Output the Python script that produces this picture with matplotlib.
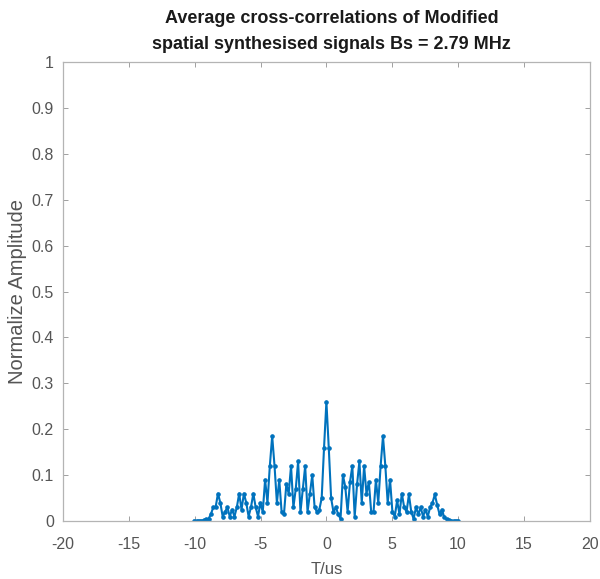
import numpy as np
import matplotlib
matplotlib.use("Agg")
import matplotlib.pyplot as plt

dt = 0.179  # sample spacing (us)

# right half, t = 0, dt, 2dt, ...
right_vals = [0.26, 0.16, 0.05, 0.02, 0.03, 0.015, 0.005, 0.10, 0.075, 0.02,
              0.085, 0.12, 0.01, 0.08, 0.13, 0.04, 0.12, 0.06, 0.085, 0.02,
              0.02, 0.09, 0.04, 0.12, 0.185, 0.12, 0.04, 0.09, 0.02, 0.01,
              0.045, 0.015, 0.06, 0.03, 0.02, 0.058, 0.02, 0.005, 0.03, 0.015,
              0.03, 0.01, 0.025, 0.01, 0.03, 0.04, 0.058, 0.035, 0.015, 0.025,
              0.008, 0.004, 0.002, 0.001, 0.001, 0.001, 0.001]
# left half, t = -dt, -2dt, ...
left_vals = [0.16, 0.05, 0.025, 0.02, 0.03, 0.10, 0.06, 0.02, 0.12, 0.07,
             0.02, 0.13, 0.07, 0.03, 0.12, 0.06, 0.08, 0.015, 0.02, 0.09,
             0.04, 0.12, 0.185, 0.12, 0.04, 0.09, 0.02, 0.04, 0.01, 0.03,
             0.06, 0.03, 0.01, 0.04, 0.06, 0.025, 0.06, 0.03, 0.01, 0.025,
             0.01, 0.03, 0.02, 0.01, 0.04, 0.06, 0.03, 0.03, 0.015, 0.005,
             0.004, 0.002, 0.001, 0.001, 0.001, 0.001]

amp = np.array(left_vals[::-1] + right_vals)
n_left = len(left_vals)
t = (np.arange(len(amp)) - n_left) * dt

xticks = [-20, -15, -10, -5, 0, 5, 10, 15, 20]
yticks = [0, 0.1, 0.2, 0.3, 0.4, 0.5, 0.6, 0.7, 0.8, 0.9, 1]
ytick_labels = ["0", "0.1", "0.2", "0.3", "0.4", "0.5", "0.6", "0.7", "0.8", "0.9", "1"]

plt.rcParams['font.family'] = ['Liberation Sans', 'DejaVu Sans']
plt.rcParams['axes.unicode_minus'] = False

fig = plt.figure(figsize=(6.0, 5.79), dpi=100)
ax = fig.add_axes([0.105, 0.100, 0.878, 0.793])

ax.plot(t, amp, color='#0072BD', linewidth=1.5, marker='o', markersize=2.3,
        markerfacecolor='#0072BD', markeredgecolor='#0072BD')

ax.set_xlim(-20, 20)
ax.set_ylim(0, 1)
ax.set_xticks(xticks)
ax.set_yticks(yticks)
ax.set_yticklabels(ytick_labels)

gray = '#555555'
for s in ax.spines.values():
    s.set_color('#b4b4b4')
    s.set_linewidth(0.9)
ax.tick_params(direction='in', top=True, right=True, length=3.5, width=0.7,
               color='#a0a0a0', labelcolor=gray, labelsize=11.5)
ax.tick_params(axis='x', pad=11.5)
ax.tick_params(axis='y', pad=6.5)

ax.set_xlabel('T/us', fontsize=12, color=gray, labelpad=7)
ax.set_ylabel('Normalize Amplitude', fontsize=14.5, color=gray, labelpad=3.5)
ax.set_title('Average cross-correlations of Modified\nspatial synthesised signals Bs = 2.79 MHz',
             fontsize=13, fontweight='bold', color='#1a1a1a', pad=9, linespacing=1.75,
             x=0.51)

fig.savefig('out.png', dpi=100)
